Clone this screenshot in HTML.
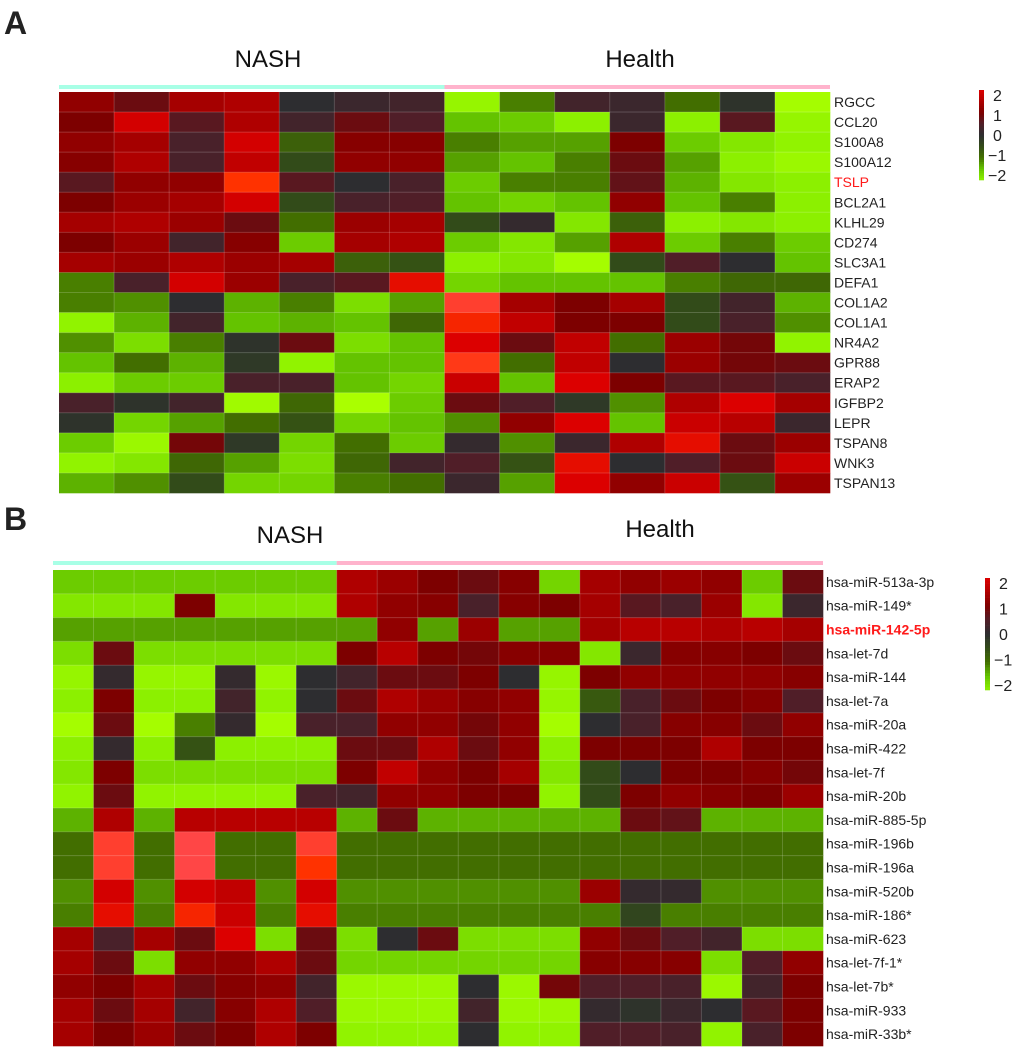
<!DOCTYPE html>
<html><head><meta charset="utf-8">
<style>
html,body{margin:0;padding:0;background:#fff;}
svg{display:block;font-family:"Liberation Sans",Arial,sans-serif;}
</style></head>
<body>
<svg id="fig" width="1020" height="1053" viewBox="0 0 1020 1053">
<text x="4" y="34" font-size="32" font-weight="bold" fill="#222">A</text>
<text x="4" y="530" font-size="32" font-weight="bold" fill="#222">B</text>
<g id="ga"></g>
<g id="gb"></g>
</svg>
<script>
const genesA = ["RGCC","CCL20","S100A8","S100A12","TSLP","BCL2A1","KLHL29","CD274","SLC3A1","DEFA1","COL1A2","COL1A1","NR4A2","GPR88","ERAP2","IGFBP2","LEPR","TSPAN8","WNK3","TSPAN13"];
const valuesA = [
[1.2,0.8,1.4,1.5,0,0.2,0.3,-2.2,-1.1,0.3,0.2,-1.0,-0.1,-2.5],
[1.0,1.9,0.6,1.5,0.3,0.8,0.5,-1.5,-1.6,-2.0,0.2,-2.0,0.6,-2.2],
[1.2,1.4,0.4,1.9,-0.8,1.1,1.1,-1.1,-1.3,-1.3,1.0,-1.6,-1.9,-2.1],
[1.1,1.5,0.4,1.7,-0.5,1.2,1.2,-1.3,-1.5,-1.1,0.8,-1.3,-2.0,-2.3],
[0.6,1.2,1.2,2.4,0.6,0,0.4,-1.6,-1.1,-1.1,0.7,-1.4,-1.9,-2.0],
[1.0,1.3,1.4,1.9,-0.5,0.4,0.5,-1.5,-1.7,-1.5,1.2,-1.5,-1.1,-2.0],
[1.4,1.5,1.3,0.8,-1.0,1.3,1.4,-0.5,0.1,-1.9,-0.8,-2.0,-1.9,-2.0],
[1.0,1.3,0.3,1.1,-1.6,1.4,1.5,-1.6,-1.9,-1.3,1.5,-1.6,-1.1,-1.6],
[1.4,1.3,1.5,1.3,1.4,-0.8,-0.6,-2.0,-1.9,-2.5,-0.5,0.5,0,-1.5],
[-1.1,0.4,1.9,1.3,0.4,0.6,2.1,-1.7,-1.5,-1.5,-1.5,-1.1,-0.9,-0.9],
[-1.1,-1.2,0,-1.4,-1.1,-1.8,-1.3,2.6,1.4,1.0,1.4,-0.5,0.3,-1.4],
[-2.1,-1.4,0.3,-1.5,-1.4,-1.5,-0.9,2.3,1.7,1.0,1.0,-0.5,0.4,-1.2],
[-1.2,-1.8,-1.1,-0.1,0.8,-1.8,-1.5,2.0,0.8,1.7,-1.0,1.3,0.9,-2.1],
[-1.5,-1.0,-1.4,-0.2,-2.1,-1.5,-1.5,2.5,-1.0,1.7,0,1.3,0.9,0.8],
[-2.0,-1.6,-1.6,0.4,0.4,-1.5,-1.7,1.8,-1.5,2.0,1.0,0.6,0.6,0.4],
[0.4,-0.1,0.3,-2.4,-0.9,-2.6,-1.6,0.8,0.5,-0.2,-1.2,1.5,2.0,1.4],
[-0.1,-1.7,-1.3,-1.0,-0.6,-1.7,-1.5,-1.2,1.2,2.0,-1.5,1.8,1.6,0.2],
[-1.6,-2.3,0.9,-0.2,-1.7,-1.0,-1.6,0.1,-1.2,0.2,1.5,2.1,0.8,1.3],
[-2.1,-1.9,-0.9,-1.3,-1.8,-0.9,0.3,0.5,-0.6,2.1,0,0.5,0.8,1.8],
[-1.4,-1.2,-0.5,-1.7,-1.7,-1.1,-1.0,0.2,-1.3,2.0,1.2,1.8,-0.6,1.3]];
const groupsA = [7,7];
const genesB = ["hsa-miR-513a-3p","hsa-miR-149*","hsa-miR-142-5p","hsa-let-7d","hsa-miR-144","hsa-let-7a","hsa-miR-20a","hsa-miR-422","hsa-let-7f","hsa-miR-20b","hsa-miR-885-5p","hsa-miR-196b","hsa-miR-196a","hsa-miR-520b","hsa-miR-186*","hsa-miR-623","hsa-let-7f-1*","hsa-let-7b*","hsa-miR-933","hsa-miR-33b*"];
const valuesB = [
[-1.6,-1.6,-1.6,-1.6,-1.6,-1.6,-1.6,1.5,1.3,1.0,0.8,1.1,-1.7,1.4,1.2,1.3,1.2,-1.6,0.8],
[-1.9,-1.9,-1.9,1.0,-1.9,-1.9,-1.9,1.5,1.2,1.1,0.4,1.1,1.0,1.4,0.6,0.4,1.3,-1.9,0.2],
[-1.3,-1.3,-1.3,-1.3,-1.3,-1.3,-1.3,-1.3,1.2,-1.3,1.3,-1.3,-1.3,1.4,1.6,1.6,1.5,1.6,1.4],
[-1.8,0.8,-1.8,-1.8,-1.8,-1.8,-1.8,1.0,1.6,1.0,0.9,1.1,1.1,-1.9,0.2,1.1,1.1,1.0,0.8],
[-2.2,0.1,-2.2,-2.2,0.1,-2.3,0,0.3,0.8,0.8,1.0,0,-2.2,1.0,1.2,1.2,1.2,1.2,1.1],
[-2.0,1.0,-2.0,-2.0,0.3,-2.1,0,0.8,1.5,1.3,1.1,1.2,-2.2,-0.7,0.4,0.8,1.0,1.1,0.5],
[-2.5,0.8,-2.5,-1.1,0.1,-2.5,0.4,0.4,1.2,1.2,0.9,1.2,-2.5,0,0.4,1.1,1.1,0.8,1.2],
[-2.0,0.1,-2.0,-0.6,-2.0,-2.0,-2.0,0.8,0.8,1.5,0.8,1.2,-2.0,1.0,1.0,1.0,1.5,1.0,1.0],
[-1.9,1.0,-1.8,-1.8,-1.8,-1.8,-1.8,1.0,1.7,1.2,1.0,1.4,-1.9,-0.5,0,1.0,1.0,1.1,0.9],
[-2.1,0.8,-2.1,-2.1,-2.1,-2.1,0.4,0.3,1.2,1.2,1.0,1.0,-2.1,-0.5,1.0,1.2,1.1,1.0,1.3],
[-1.4,1.5,-1.4,1.6,1.6,1.6,1.6,-1.4,0.8,-1.4,-1.4,-1.4,-1.4,-1.4,0.8,0.7,-1.4,-1.4,-1.4],
[-1.0,2.6,-1.0,2.7,-1.0,-1.0,2.6,-1.0,-1.0,-1.0,-1.0,-1.0,-1.0,-1.0,-1.0,-1.0,-1.0,-1.0,-1.0],
[-1.0,2.6,-1.0,2.7,-1.0,-1.0,2.4,-1.0,-1.0,-1.0,-1.0,-1.0,-1.0,-1.0,-1.0,-1.0,-1.0,-1.0,-1.0],
[-1.2,1.9,-1.2,1.9,1.7,-1.2,1.9,-1.2,-1.2,-1.2,-1.2,-1.2,-1.2,1.3,0.1,0.1,-1.2,-1.2,-1.2],
[-1.1,2.1,-1.1,2.3,1.8,-1.1,2.1,-1.1,-1.1,-1.1,-1.1,-1.1,-1.1,-1.1,-0.4,-1.1,-1.1,-1.1,-1.1],
[1.4,0.4,1.4,0.8,2.0,-1.8,0.8,-1.8,0,0.8,-1.8,-1.8,-1.8,1.2,0.8,0.5,0.3,-1.8,-1.8],
[1.4,0.8,-1.8,1.2,1.2,1.5,0.8,-1.7,-1.7,-1.7,-1.7,-1.7,-1.7,1.1,1.1,1.1,-1.8,0.5,1.2],
[1.2,1.0,1.4,0.8,1.1,1.2,0.3,-2.3,-2.3,-2.3,0,-2.3,0.9,0.5,0.5,0.4,-2.3,0.3,1.0],
[1.4,0.8,1.4,0.3,1.1,1.5,0.5,-2.3,-2.3,-2.3,0.3,-2.3,-2.3,0.1,-0.1,0.2,0,0.6,1.0],
[1.4,1.0,1.3,0.8,1.0,1.5,1.0,-2.1,-2.1,-2.1,0,-2.1,-2.1,0.5,0.5,0.4,-2.1,0.4,1.0]];
const groupsB = [7,12];
const groupNames = ["NASH","Health"];
const scaleTicks = [2,1,0,-1,-2];

const NS="http://www.w3.org/2000/svg";
const stops=[[-2.6,[170,255,0]],[-2,[140,240,0]],[-1.5,[100,195,0]],[-1,[66,110,0]],[-0.5,[50,75,25]],[0,[45,45,48]],[0.5,[80,30,40]],[1,[125,0,0]],[1.5,[175,0,0]],[2,[220,0,0]],[2.4,[255,50,0]],[2.7,[255,70,70]]];
function color(v){
  if(v<=stops[0][0])return "rgb("+stops[0][1]+")";
  for(let i=1;i<stops.length;i++){
    if(v<=stops[i][0]){const a=stops[i-1],b=stops[i];const t=(v-a[0])/(b[0]-a[0]);
      return "rgb("+a[1].map((c,k)=>Math.round(c+(b[1][k]-c)*t)).join(",")+")";}
  }
  return "rgb("+stops[stops.length-1][1]+")";
}
function mk(tag,attrs,parent){const e=document.createElementNS(NS,tag);for(const k in attrs)e.setAttribute(k,attrs[k]);parent.appendChild(e);return e;}

function drawPanel(g,genes,values,groups,cfg){
  const nCols=values[0].length,nRows=genes.length;
  const cw=(cfg.x1-cfg.x0)/nCols,rh=(cfg.y1-cfg.y0)/nRows;
  const xs=c=>cfg.x0+c*cw, ys=r=>cfg.y0+r*rh;
  let c0=0;
  groups.forEach((n,gi)=>{
    const bar=mk("rect",{x:xs(c0),y:cfg.barY,width:n*cw,height:4,fill:gi==0?"#a8ffe6":"#ffb3cc"},g);
    
    
    const t=mk("text",{x:cfg.titleX[gi],y:cfg.titleY[gi],"font-size":24,"text-anchor":"middle",fill:"#111"},g);
    t.textContent=groupNames[gi];
    
    
    c0+=n;
  });
  for(let r=0;r<nRows;r++){
    for(let c=0;c<nCols;c++){
      const cell=mk("rect",{x:xs(c),y:ys(r),width:cw+0.3,height:rh+0.3,fill:color(values[r][c])},g);
      
      
    }
    const hl=genes[r]===cfg.hl;
    const lab=mk("text",{x:cfg.labelX,y:ys(r)+rh/2+5,"font-size":14,fill:hl?"#ff1a1a":"#222","font-weight":(hl&&cfg.hlBold)?"bold":"normal"},g);
    lab.textContent=genes[r];
    
    
  }
  for(let r=1;r<nRows;r++) mk("line",{x1:cfg.x0,x2:cfg.x1,y1:ys(r),y2:ys(r),stroke:"rgba(255,255,255,0.18)","stroke-width":1},g);
  for(let c=1;c<nCols;c++) mk("line",{x1:xs(c),x2:xs(c),y1:cfg.y0,y2:cfg.y1,stroke:"rgba(255,255,255,0.18)","stroke-width":1},g);
  const cb=cfg.cb; const n=40;
  for(let i=0;i<n;i++){
    const v=2-4*(i+0.5)/n;
    const s=mk("rect",{x:cb.x,y:cb.y0+i*(cb.y1-cb.y0)/n,width:5,height:(cb.y1-cb.y0)/n+0.3,fill:color(v)},g);
    
    
  }
  scaleTicks.forEach(v=>{
    const yy=cb.y0+(2-v)/4*(cb.y1-cb.y0-10)+5;
    const t=mk("text",{x:cb.x+(v<0?9:14),y:yy+6,"font-size":16,fill:"#222"},g);
    t.textContent=v<0?"\u2212"+(-v):String(v);
    
    
  });
}
drawPanel(document.getElementById("ga"),genesA,valuesA,groupsA,{x0:59,x1:830,y0:92,y1:493,barY:85,labelX:834,hl:"TSLP",hlBold:false,titleX:[268,640],titleY:[67,67],cb:{x:979,y0:90,y1:180}});
drawPanel(document.getElementById("gb"),genesB,valuesB,groupsB,{x0:53,x1:823,y0:570,y1:1046,barY:561,labelX:826,hl:"hsa-miR-142-5p",hlBold:true,titleX:[290,660],titleY:[543,537],cb:{x:985,y0:578,y1:690}});
</script>
</body></html>
